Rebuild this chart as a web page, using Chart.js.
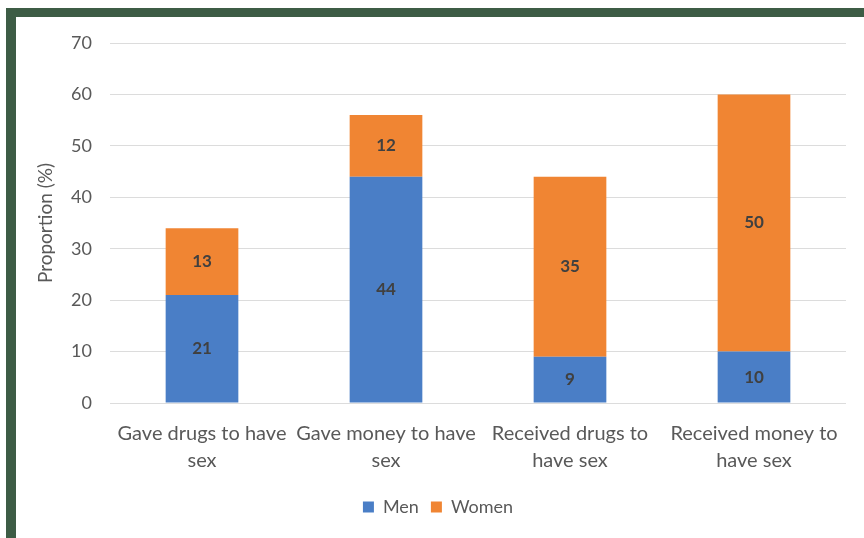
<!DOCTYPE html>
<html><head><meta charset="utf-8">
<script src="https://cdn.jsdelivr.net/npm/chart.js@4/dist/chart.umd.min.js"></script>
<style>
html,body{margin:0;padding:0;background:#fff;width:864px;height:538px;overflow:hidden;}
#frame{position:absolute;left:6px;top:8px;width:848px;height:521px;border-top:9px solid #3d5c45;border-left:10px solid #3d5c45;background:#fff;}
#c{display:block;}
</style></head>
<body>
<div id="frame"><canvas id="c" width="848" height="521"></canvas></div>
<script>
const categories = [["Gave drugs to have","sex"],["Gave money to have","sex"],["Received drugs to","have sex"],["Received money to","have sex"]];
const menValues = [21, 44, 9, 10];
const womenValues = [13, 12, 35, 50];
const seriesNames = ["Men","Women"];
const yTicks = [0,10,20,30,40,50,60,70];

const FONT = "Lato, 'Open Sans', sans-serif";
const labelPlugin = {
  id:'barLabels',
  afterDatasetsDraw(chart){
    const ctx = chart.ctx;
    ctx.save();
    ctx.font = "bold 17px " + FONT;
    ctx.fillStyle = "#404040";
    ctx.textAlign = "center";
    ctx.textBaseline = "middle";
    chart.data.datasets.forEach((ds,i)=>{
      chart.getDatasetMeta(i).data.forEach((bar,j)=>{
        const p = bar.getProps(['x','y','base'],true);
        ctx.fillText(String(ds.data[j]), p.x, (p.y+p.base)/2);
      });
    });
    ctx.restore();
  }
};

new Chart(document.getElementById('c'),{
  type:'bar',
  data:{labels:categories,datasets:[
    {label:seriesNames[0],data:menValues,backgroundColor:'#4a7ec6'},
    {label:seriesNames[1],data:womenValues,backgroundColor:'#f08533'}
  ]},
  options:{
    responsive:false,animation:false,
    layout:{padding:{left:14,right:18,top:26,bottom:12}},
    datasets:{bar:{categoryPercentage:1,barPercentage:0.395}},
    plugins:{
      legend:{position:'bottom',labels:{boxWidth:11,boxHeight:11,font:{size:18,family:FONT},color:'#595959',padding:12}},
      tooltip:{enabled:false}
    },
    scales:{
      x:{stacked:true,grid:{display:false},border:{display:false},
         afterFit:s=>{s.height+=3;},
         ticks:{font:{size:20,family:FONT,lineHeight:1.35},color:'#595959',padding:9,maxRotation:0,autoSkip:false}},
      y:{stacked:true,min:0,max:70,
         afterBuildTicks:s=>{s.ticks=yTicks.map(v=>({value:v}));},
         afterFit:s=>{s.width=80;s.paddingTop=0;s.paddingBottom=0;},
         grid:{color:'#dcdcdc',drawTicks:false},border:{display:false},
         ticks:{font:{size:18,family:FONT},color:'#595959',padding:18},
         title:{display:true,text:'Proportion (%)',font:{size:19,family:FONT},color:'#595959',padding:4}}
    }
  },
  plugins:[labelPlugin]
});
</script>
</body></html>
